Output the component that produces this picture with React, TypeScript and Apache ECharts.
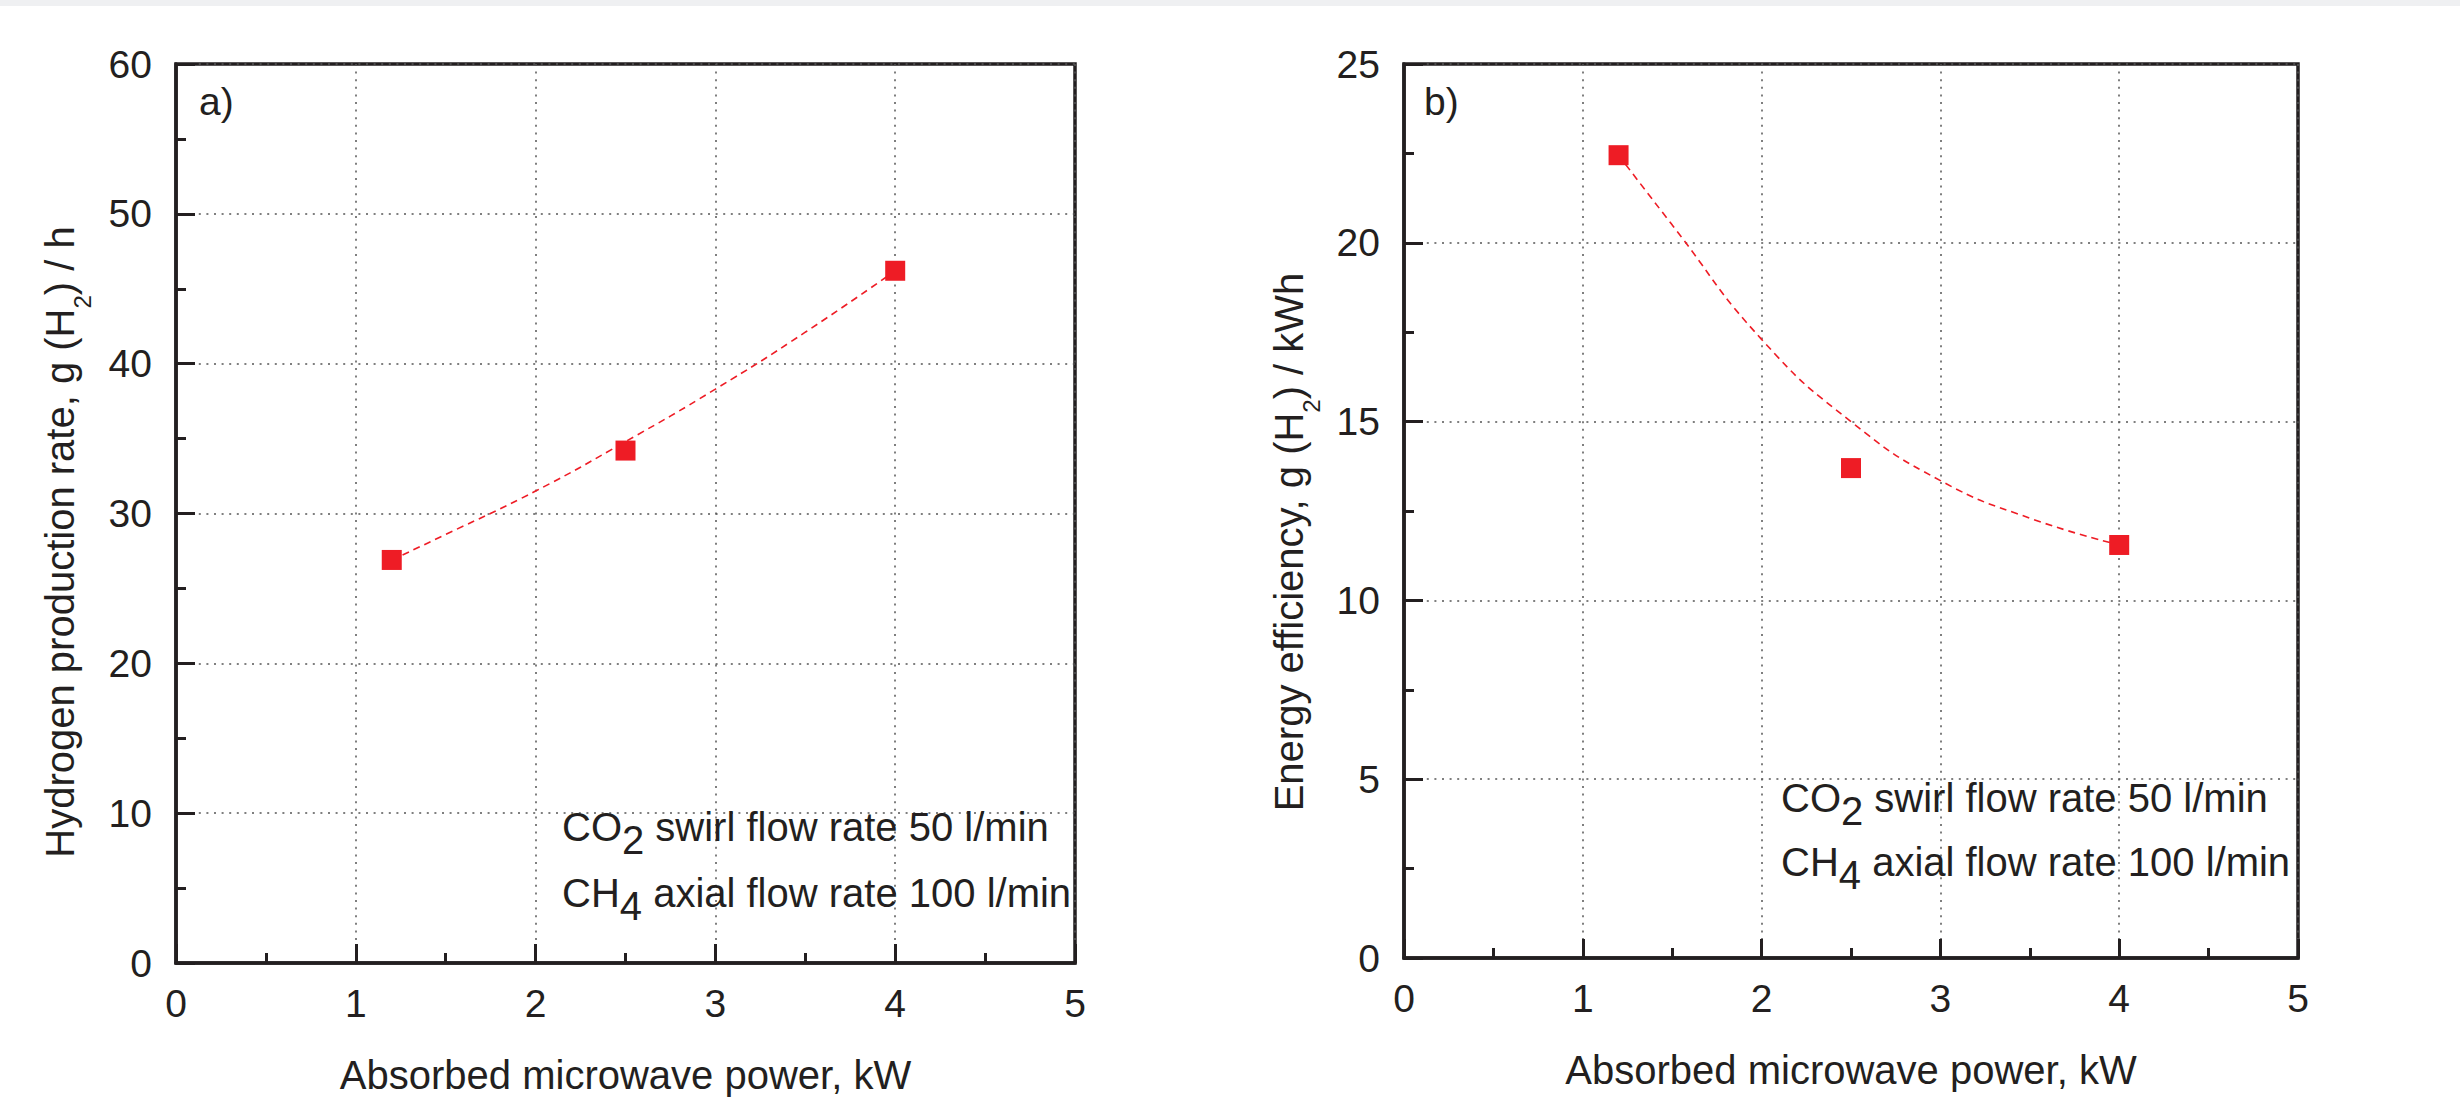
import React, { useEffect, useRef } from "react";
import * as echarts from "echarts";

// ---- data ----
const powerKW = [1.2, 2.5, 4.0];
const h2Rate = [26.9, 34.2, 46.2];
const energyEff = [22.45, 13.7, 11.55];
const fitX = [1.2, 1.5, 2.0, 2.5, 3.0, 3.5, 4.0];
const h2RateFit = [26.9, 28.6, 31.5, 34.8, 38.3, 42.1, 46.2];
const energyEffFit = [22.45, 20.5, 17.3, 15.0, 13.35, 12.3, 11.55];
const xTitle = "Absorbed microwave power, kW";
const panelLabels = ["a)", "b)"];
const noteLine1 = ["CO", "2", " swirl flow rate 50 l/min"];
const noteLine2 = ["CH", "4", " axial flow rate 100 l/min"];
const yTitleA = ["Hydrogen production rate, g (H", "2", ") / h"];
const yTitleB = ["Energy efficiency, g (H", "2", ") / kWh"];

const INK = "#231f20";
const RED = "#ee1c25";
const FONT = "Liberation Sans, Arial, Helvetica, sans-serif";

const pairs = (xs: number[], ys: number[]) => xs.map((x, i) => [x, ys[i]]);

function xAxisCfg(gridIndex: number) {
  return {
    type: "value",
    gridIndex,
    min: 0,
    max: 5,
    interval: 1,
    name: xTitle,
    nameLocation: "middle",
    nameGap: 92,
    nameTextStyle: { fontSize: 40, color: INK, fontFamily: FONT },
    axisLine: { show: true, onZero: false, lineStyle: { color: INK, width: 3.5 } },
    axisTick: { show: true, inside: true, length: 19, lineStyle: { color: INK, width: 3 } },
    minorTick: { show: true, splitNumber: 2, length: 10, lineStyle: { color: INK, width: 3 } },
    axisLabel: { fontSize: 39, color: INK, fontFamily: FONT, margin: 21 },
    splitLine: { show: true, lineStyle: { color: "#555", width: 1.5, type: [2, 5.6] } },
  };
}

function yAxisCfg(gridIndex: number, max: number, interval: number) {
  return {
    type: "value",
    gridIndex,
    min: 0,
    max,
    interval,
    axisLine: { show: true, onZero: false, lineStyle: { color: INK, width: 3.5 } },
    axisTick: { show: true, inside: true, length: 19, lineStyle: { color: INK, width: 3 } },
    minorTick: { show: true, splitNumber: 2, length: 10, lineStyle: { color: INK, width: 3 } },
    axisLabel: { fontSize: 39, color: INK, fontFamily: FONT, margin: 24 },
    splitLine: { show: true, lineStyle: { color: "#555", width: 1.5, type: [2, 5.6] } },
  };
}

function subText(parts: string[]) {
  return `{n|${parts[0]}}{s|${parts[1]}}{n|${parts[2]}}`;
}

function noteText(parts: string[], x: number, y: number) {
  return {
    type: "text",
    x,
    y,
    z: 10,
    style: {
      text: subText(parts),
      align: "left",
      verticalAlign: "middle",
      fill: INK,
      rich: {
        n: { fontSize: 40, fontFamily: FONT, lineHeight: 40, fill: INK, color: INK },
        s: { fontSize: 40, fontFamily: FONT, lineHeight: 40, padding: [26, 0, 0, 0], fill: INK, color: INK },
      },
    },
  };
}

function yTitle(parts: string[], x: number, y: number) {
  return {
    type: "text",
    x,
    y,
    rotation: Math.PI / 2,
    z: 10,
    style: {
      text: subText(parts),
      align: "center",
      verticalAlign: "middle",
      fill: INK,
      rich: {
        n: { fontSize: 40, fontFamily: FONT, lineHeight: 40, fill: INK, color: INK },
        s: { fontSize: 24, fontFamily: FONT, lineHeight: 24, padding: [44, 0, 0, 0], fill: INK, color: INK },
      },
    },
  };
}

function panelLabel(text: string, x: number, y: number) {
  return {
    type: "text",
    x,
    y,
    z: 10,
    style: { text, fontSize: 39, fontFamily: FONT, fill: INK, align: "left", verticalAlign: "middle" },
  };
}

export default function App() {
  const ref = useRef<HTMLDivElement>(null);

  useEffect(() => {
    document.body.style.margin = "0";
    if (!ref.current) return;
    const chart = echarts.init(ref.current, null, { renderer: "svg" });
    const lineStyle = { color: RED, width: 1.6, type: [7, 5] };
    chart.setOption({
      animation: false,
      backgroundColor: "#ffffff",
      textStyle: { fontFamily: FONT },
      grid: [
        { left: 176, top: 64, width: 899, height: 899, show: true, borderColor: INK, borderWidth: 3.5, backgroundColor: "transparent" },
        { left: 1404, top: 64, width: 894, height: 894, show: true, borderColor: INK, borderWidth: 3.5, backgroundColor: "transparent" },
      ],
      xAxis: [xAxisCfg(0), xAxisCfg(1)],
      yAxis: [yAxisCfg(0, 60, 10), yAxisCfg(1, 25, 5)],
      series: [
        {
          type: "line",
          xAxisIndex: 0,
          yAxisIndex: 0,
          data: pairs(fitX, h2RateFit),
          smooth: true,
          showSymbol: false,
          symbol: "none",
          lineStyle,
          z: 3,
        },
        {
          type: "scatter",
          xAxisIndex: 0,
          yAxisIndex: 0,
          data: pairs(powerKW, h2Rate),
          symbol: "rect",
          symbolSize: 20,
          itemStyle: { color: RED, opacity: 1 },
          z: 4,
        },
        {
          type: "line",
          xAxisIndex: 1,
          yAxisIndex: 1,
          data: pairs(fitX, energyEffFit),
          smooth: true,
          showSymbol: false,
          symbol: "none",
          lineStyle,
          z: 3,
        },
        {
          type: "scatter",
          xAxisIndex: 1,
          yAxisIndex: 1,
          data: pairs(powerKW, energyEff),
          symbol: "rect",
          symbolSize: 20,
          itemStyle: { color: RED, opacity: 1 },
          z: 4,
        },
      ],
      graphic: [
        { type: "rect", shape: { x: 0, y: 0, width: 2460, height: 6 }, style: { fill: "#eff0f2" }, z: 0 },
        yTitle(yTitleA, 60, 542),
        yTitle(yTitleB, 1289, 542),
        panelLabel(panelLabels[0], 199, 101),
        panelLabel(panelLabels[1], 1424, 101),
        noteText(noteLine1, 562, 827),
        noteText(noteLine2, 562, 893),
        noteText(noteLine1, 1781, 798),
        noteText(noteLine2, 1781, 862),
      ],
    });
    return () => chart.dispose();
  }, []);

  return <div ref={ref} style={{ width: 2460, height: 1111 }} />;
}
